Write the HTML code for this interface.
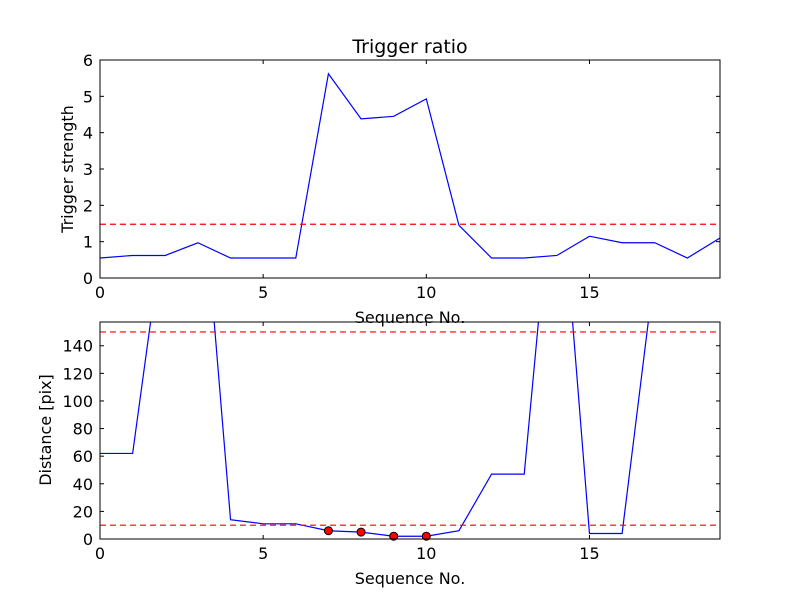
<!DOCTYPE html>
<html><head><meta charset="utf-8"><style>
body{margin:0;background:#fff}
svg text{font-family:"DejaVu Sans","Liberation Sans",sans-serif;fill:#000}
</style></head><body>
<svg id="c" width="800" height="600" xmlns="http://www.w3.org/2000/svg">
<defs>
<clipPath id="clip1"><rect x="100" y="60" width="620" height="218"/></clipPath>
<clipPath id="clip2"><rect x="100" y="322" width="620" height="217"/></clipPath>
</defs>
</svg>
<script>
const seq = [0,1,2,3,4,5,6,7,8,9,10,11,12,13,14,15,16,17,18,19];
const strength = [0.55,0.62,0.62,0.97,0.55,0.55,0.55,5.62,4.38,4.45,4.93,1.45,0.55,0.55,0.62,1.15,0.97,0.97,0.55,1.1];
const strengthThreshold = [1.48];
const distance = [62,62,235,300,14,11,11,6,5,2,2,6,47,47,300,4,4,195,200,200];
const distThresholds = [150,10];
const markedIdx = [7,8,9,10];
const xTicks = [0,5,10,15];
const y1Ticks = [0,1,2,3,4,5,6];
const y2Ticks = [0,20,40,60,80,100,120,140];

const NS="http://www.w3.org/2000/svg";
const svg=document.getElementById('c');
function mk(tag,attrs,parent){const e=document.createElementNS(NS,tag);for(const k in attrs)e.setAttribute(k,attrs[k]);(parent||svg).appendChild(e);return e;}
const L=100,R=720;
const xs=v=>L+(v-0)/(19-0)*(R-L);
function panel(top,bot,ymax,yTicks,name){
  const ys=v=>bot-v/ymax*(bot-top);
  return ys;
}
const T1=60,B1=278,T2=322,B2=539;
const y1=v=>B1-v/6*(B1-T1);
const y2=v=>B2-v/157.2*(B2-T2);

function axes(T,B,ys,yTicks,prefix){
  const g=mk('g',{});
  
  
  xTicks.forEach(t=>{
    const x=xs(t);
    const l1=mk('line',{x1:x,x2:x,y1:B,y2:B-4,stroke:'#000'},g);
    
    
    mk('line',{x1:x,x2:x,y1:T,y2:T+4,stroke:'#000'},g);
    const tx=mk('text',{x:x,y:B+20,'text-anchor':'middle','font-size':16},g);
    tx.textContent=t;
    
    
  });
  yTicks.forEach(t=>{
    const y=ys(t);
    const l1=mk('line',{x1:L,x2:L+4,y1:y,y2:y,stroke:'#000'},g);
    
    
    mk('line',{x1:R,x2:R-4,y1:y,y2:y,stroke:'#000'},g);
    const tx=mk('text',{x:L-7,y:y+6,'text-anchor':'end','font-size':16},g);
    tx.textContent=t;
    
    
  });
}
axes(T1,B1,y1,y1Ticks,'top');
axes(T2,B2,y2,y2Ticks,'bottom');

// top series
const p1=mk('polyline',{points:seq.map((s,i)=>xs(s)+','+y1(strength[i])).join(' '),fill:'none',stroke:'#0000ff','stroke-width':1.2,'clip-path':'url(#clip1)'});


strengthThreshold.forEach(v=>{
  const l=mk('line',{x1:L,x2:R,y1:y1(v),y2:y1(v),stroke:'#ff0000','stroke-width':1.2,'stroke-dasharray':'6,4'});
  
  
});
// bottom series
const p2=mk('polyline',{points:seq.map((s,i)=>xs(s)+','+y2(distance[i])).join(' '),fill:'none',stroke:'#0000ff','stroke-width':1.2,'clip-path':'url(#clip2)'});


distThresholds.forEach(v=>{
  const l=mk('line',{x1:L,x2:R,y1:y2(v),y2:y2(v),stroke:'#ff0000','stroke-width':1.2,'stroke-dasharray':'6,4'});
  
  
});
markedIdx.forEach(i=>{
  const c=mk('circle',{cx:xs(seq[i]),cy:y2(distance[i]),r:4,fill:'#ff0000',stroke:'#000','stroke-width':1});
  
  
});
// frames
[[T1,B1,'top-frame'],[T2,B2,'bottom-frame']].forEach(([T,B,n])=>{
  const r=mk('rect',{x:L,y:T,width:R-L,height:B-T,fill:'none',stroke:'#000','stroke-width':1});
  
  
});
function label(txt,attrs,name){const t=mk('text',attrs);t.textContent=txt;}
label('Trigger ratio',{x:410,y:53,'text-anchor':'middle','font-size':19},'top-title');
label('Sequence No.',{x:410,y:323,'text-anchor':'middle','font-size':16},'top-x-axis-title');
label('Trigger strength',{x:73,y:169,'text-anchor':'middle','font-size':16,transform:'rotate(-90 73 169)'},'top-y-axis-title');
label('Sequence No.',{x:410,y:584,'text-anchor':'middle','font-size':16},'bottom-x-axis-title');
label('Distance [pix]',{x:51,y:430,'text-anchor':'middle','font-size':16,transform:'rotate(-90 51 430)'},'bottom-y-axis-title');
</script>
</body></html>
